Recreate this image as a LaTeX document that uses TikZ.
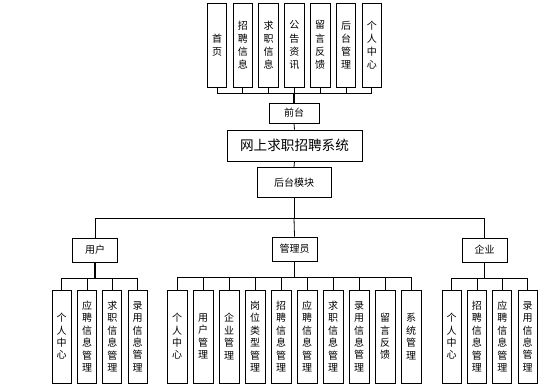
\documentclass[tikz,border=0pt]{standalone}
\usepackage{fontspec}
\newfontfamily\cjk{Noto Sans CJK SC}
\begin{document}
\begin{tikzpicture}[x=0.75pt,y=-0.75pt,
  box/.style={draw, line width=0.6pt, inner sep=0pt, align=center,
    font=\cjk\fontsize{7.5}{9.3}\selectfont},
  vbox/.style={box, minimum width=19.5*0.75pt, minimum height=84*0.75pt, font=\cjk\fontsize{7.5}{9.9}\selectfont},
  lbox/.style={box, minimum width=19*0.75pt, minimum height=93*0.75pt},
  hbox/.style={box, minimum width=45*0.75pt, minimum height=24*0.75pt},
  conn/.style={line width=0.6pt},
  trunk/.style={line width=1.1pt}]
\useasboundingbox (0,0) rectangle (559,384);
% top row
\foreach \t [count=\i from 0] in {首\\页, 招\\聘\\信\\息, 求\\职\\信\\息, 公\\告\\资\\讯, 留\\言\\反\\馈, 后\\台\\管\\理, 个\\人\\中\\心}
  \node[vbox] (t\i) at ({217+25.8*\i},45) {\t};
\node[box, minimum width=50*0.75pt, minimum height=20*0.75pt] (qt) at (294,113) {前台};
\node[box, minimum width=135*0.75pt, minimum height=31*0.75pt, font=\cjk\fontsize{10.2}{12}\selectfont] (sys) at (294.5,145.5) {网上求职招聘系统};
\node[box, minimum width=74*0.75pt, minimum height=30*0.75pt] (ht) at (294,182.5) {后台模块};
\coordinate (tb) at (294,93);
\foreach \i in {0,...,6} \draw[conn] (t\i.south) |- (tb);
\draw[trunk] (tb) -- (qt.north);
\draw[conn] (qt.south) -- (sys.north);
\draw[conn] (sys.south) -- (ht.north);
% second level
\node[hbox] (user) at (95,250) {用户};
\node[hbox] (admin) at (294.5,249) {管理员};
\node[hbox] (ent) at (484.5,250) {企业};
\coordinate (mb) at (294,218);
\draw[conn] (ht.south) -- (mb);
\draw[conn] (mb) -| (user.north);
\draw[conn] (mb) -| (ent.north);
\draw[conn] (mb) -- (admin.north);
% user children
\foreach \t [count=\i from 0] in {个\\人\\中\\心, 应\\聘\\信\\息\\管\\理, 求\\职\\信\\息\\管\\理, 录\\用\\信\\息\\管\\理}
  \node[lbox] (u\i) at ({61.7+25.3*\i},336.5) {\t};
\coordinate (ub) at (95,278);
\draw[trunk] (user.south) -- (ub);
\foreach \i in {0,...,3} \draw[conn] (u\i.north) |- (ub);
% admin children
\foreach \t [count=\i from 0] in {个\\人\\中\\心, 用\\户\\管\\理, 企\\业\\管\\理, 岗\\位\\类\\型\\管\\理, 招\\聘\\信\\息\\管\\理, 应\\聘\\信\\息\\管\\理, 求\\职\\信\\息\\管\\理, 录\\用\\信\\息\\管\\理, 留\\言\\反\\馈, 系\\统\\管\\理}
  \node[lbox, minimum width=20*0.75pt] (a\i) at ({177+26*\i},336.5) {\t};
\coordinate (ab) at (294.5,277);
\draw[trunk] (admin.south) -- (ab);
\foreach \i in {0,...,9} \draw[conn] (a\i.north) |- (ab);
% enterprise children
\foreach \t [count=\i from 0] in {个\\人\\中\\心, 招\\聘\\信\\息\\管\\理, 应\\聘\\信\\息\\管\\理, 录\\用\\信\\息\\管\\理}
  \node[lbox] (e\i) at ({451.5+25.4*\i},336.5) {\t};
\coordinate (eb) at (484.5,278);
\draw[conn] (ent.south) -- (eb);
\foreach \i in {0,...,3} \draw[conn] (e\i.north) |- (eb);
\end{tikzpicture}
\end{document}
